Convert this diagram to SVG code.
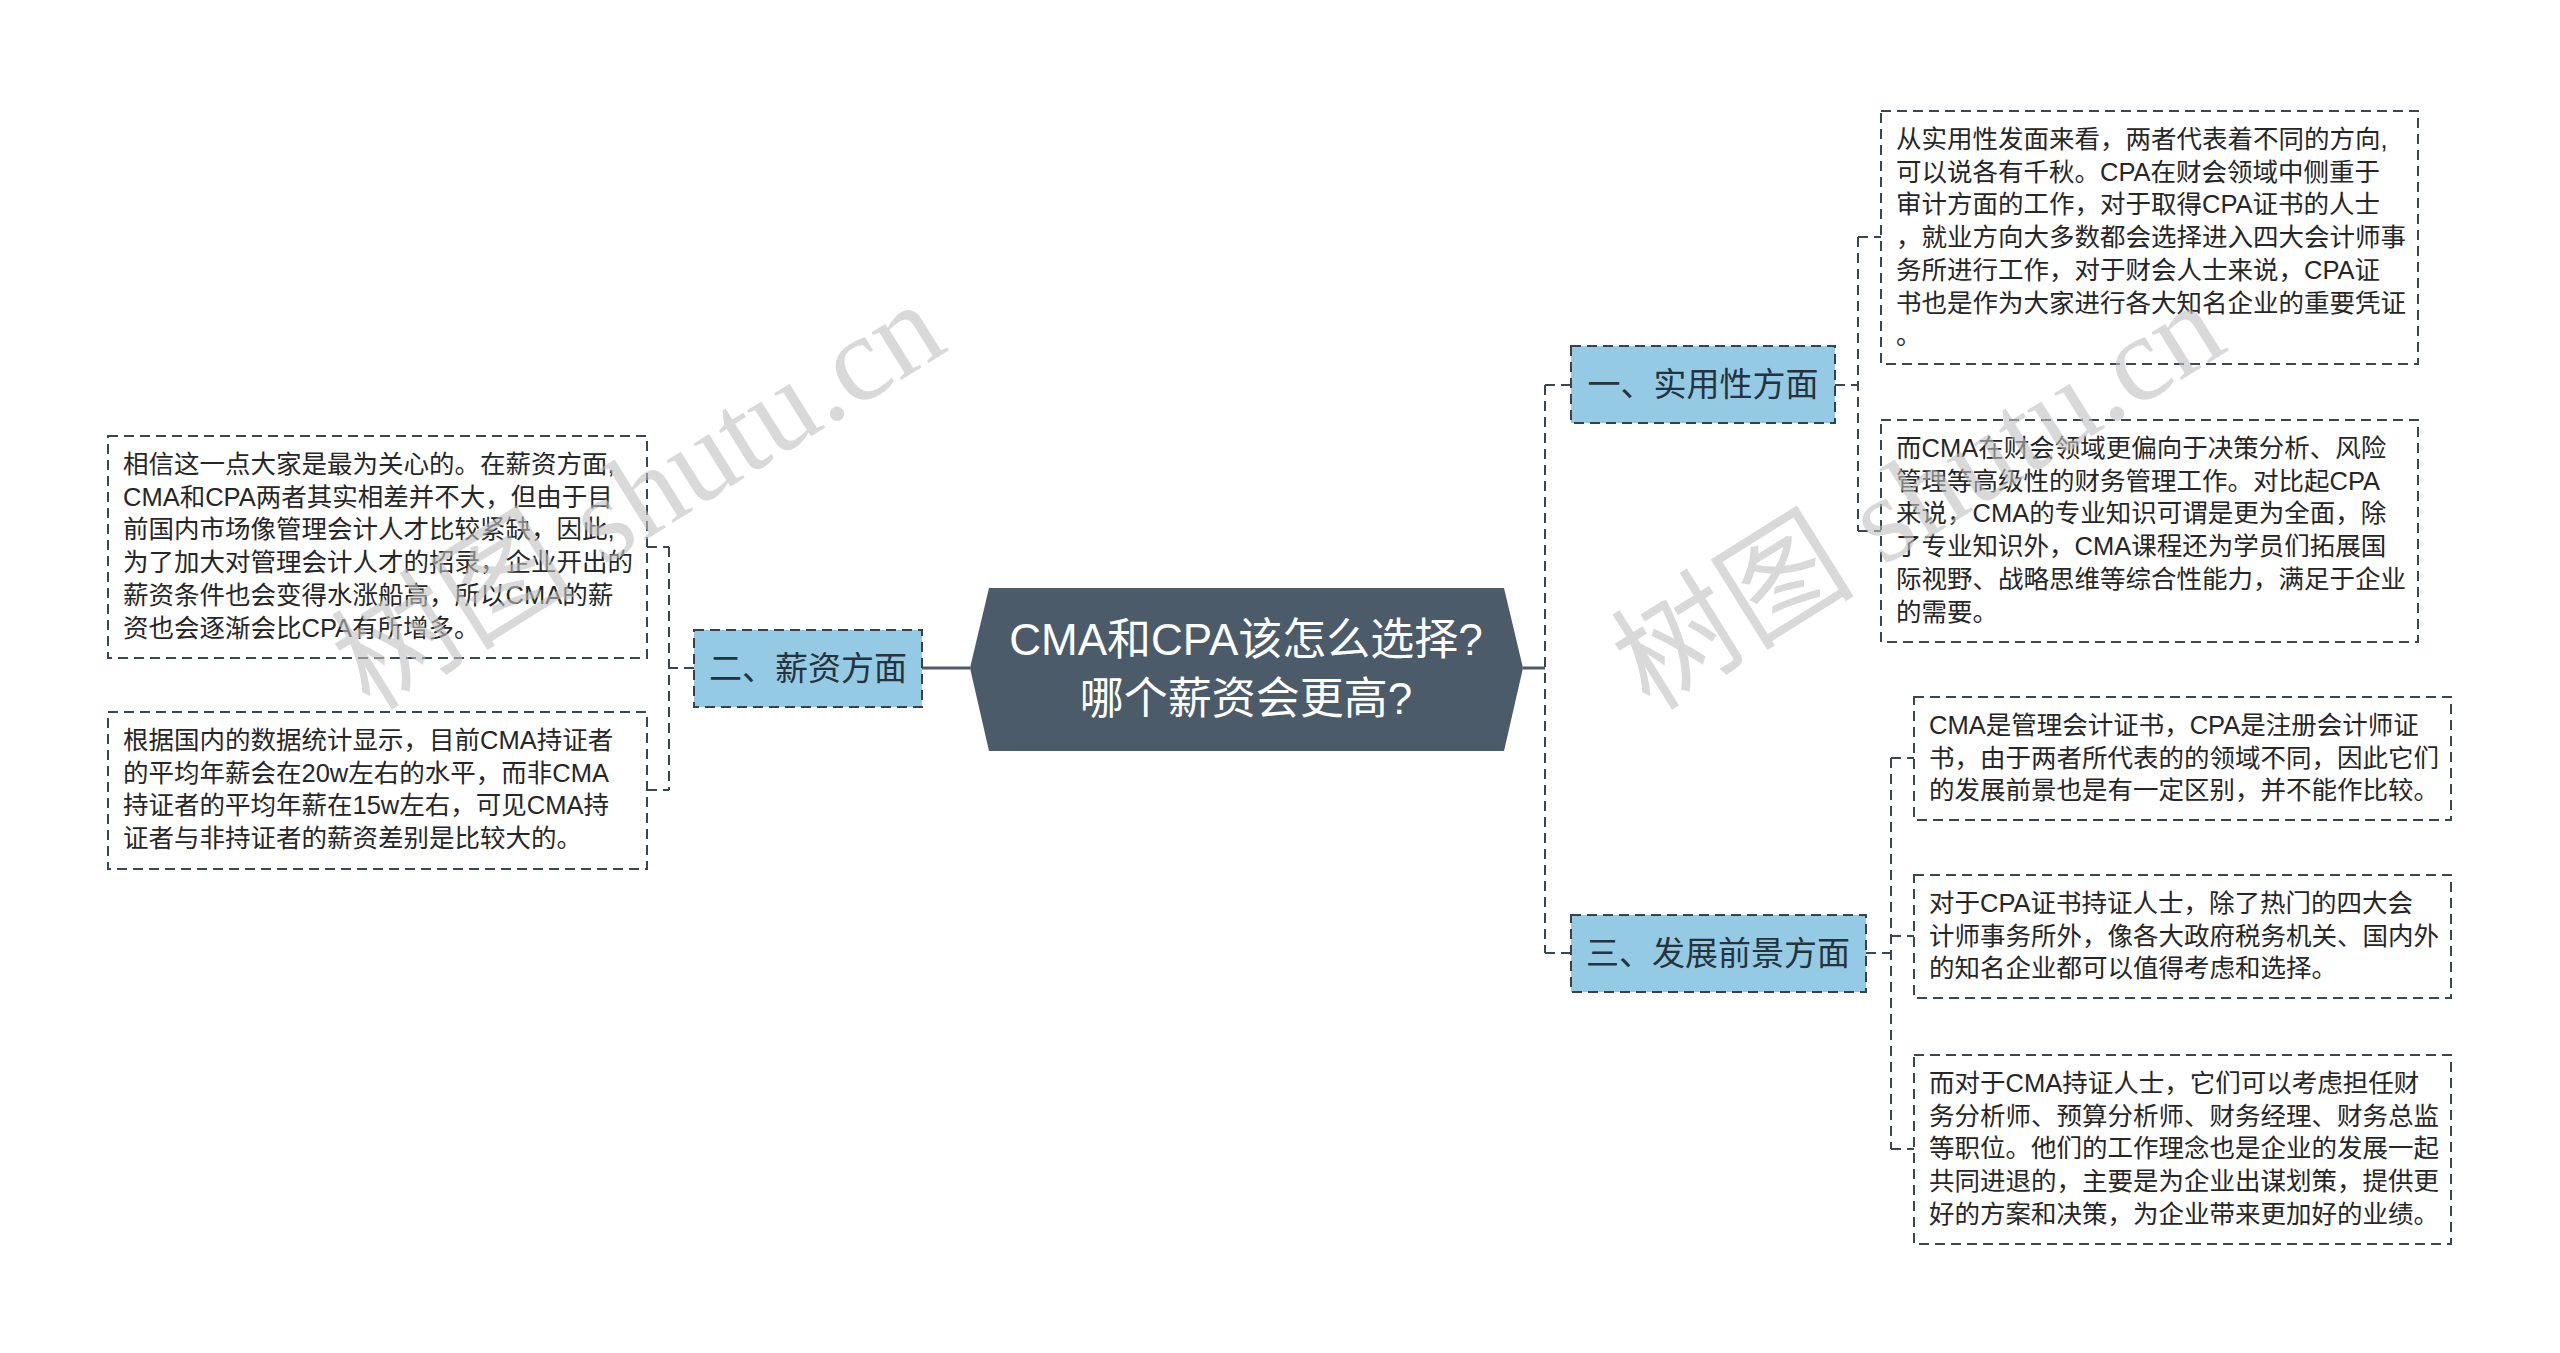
<svg xmlns="http://www.w3.org/2000/svg" width="2560" height="1353" viewBox="0 0 2560 1353">
<style>
.bg{fill:#ffffff}
.box{fill:#ffffff;stroke:#3a4652;stroke-width:2;stroke-dasharray:10 6}
.topic{fill:#94cae4;stroke:#35424e;stroke-width:2;stroke-dasharray:10 6}
.dash{fill:none;stroke:#3a4652;stroke-width:2;stroke-dasharray:10 6}
.solid{fill:none;stroke:#4b5b6a;stroke-width:3}
.t{font-family:"Liberation Sans","Noto Sans CJK SC",sans-serif;font-size:25.5px;fill:#262626}
.tl{font-family:"Liberation Sans","Noto Sans CJK SC",sans-serif;font-size:33px;fill:#26323d;text-anchor:middle}
.tc{font-family:"Liberation Sans","Noto Sans CJK SC",sans-serif;font-size:44px;fill:#ffffff;text-anchor:middle}
.wm{font-family:"Liberation Serif","Noto Sans CJK SC",serif;font-size:122px;fill:#bfbfbf;fill-opacity:0.6}
</style>
<rect class="bg" width="2560" height="1353"/>

<g id="connectors">
<line class="solid" x1="922" y1="668" x2="970" y2="668"/>
<path class="dash" d="M694 668H669M669 547V790M647 547H669M647 790H669"/>
<line class="solid" x1="1523" y1="668" x2="1545" y2="668"/>
<path class="dash" d="M1545 385V953M1545 385H1571M1545 953H1571"/>
<path class="dash" d="M1835 385H1858M1858 237V531M1858 237H1881M1858 531H1881"/>
<path class="dash" d="M1866 953H1891M1891 758V1149M1891 758H1914M1891 936H1914M1891 1149H1914"/>
</g>

<g id="center">
<polygon points="970,668 989,588 1504,588 1523,668 1504,751 989,751" fill="#4b5b6a"/>
<text class="tc" x="1246" y="655">CMA和CPA该怎么选择?</text>
<text class="tc" x="1246" y="714">哪个薪资会更高?</text>
</g>

<g id="topic-salary">
<rect class="topic" x="694" y="630" width="228" height="77"/>
<text class="tl" x="808" y="680">二、薪资方面</text>
</g>

<g id="topic-practical">
<rect class="topic" x="1571" y="346" width="264" height="77"/>
<text class="tl" x="1703" y="396">一、实用性方面</text>
</g>

<g id="topic-prospect">
<rect class="topic" x="1571" y="915" width="295" height="77"/>
<text class="tl" x="1718" y="965">三、发展前景方面</text>
</g>

<g id="salary-1">
<rect class="box" x="108" y="436" width="539" height="222"/>
<text class="t" x="123" y="473">相信这一点大家是最为关心的。在薪资方面,</text>
<text class="t" x="123" y="505.7">CMA和CPA两者其实相差并不大，但由于目</text>
<text class="t" x="123" y="538.4">前国内市场像管理会计人才比较紧缺，因此,</text>
<text class="t" x="123" y="571.1">为了加大对管理会计人才的招录，企业开出的</text>
<text class="t" x="123" y="603.8">薪资条件也会变得水涨船高，所以CMA的薪</text>
<text class="t" x="123" y="636.5">资也会逐渐会比CPA有所增多。</text>
</g>

<g id="salary-2">
<rect class="box" x="108" y="712" width="539" height="157"/>
<text class="t" x="123" y="749">根据国内的数据统计显示，目前CMA持证者</text>
<text class="t" x="123" y="781.7">的平均年薪会在20w左右的水平，而非CMA</text>
<text class="t" x="123" y="814.4">持证者的平均年薪在15w左右，可见CMA持</text>
<text class="t" x="123" y="847.1">证者与非持证者的薪资差别是比较大的。</text>
</g>

<g id="practical-1">
<rect class="box" x="1881" y="111" width="537" height="253"/>
<text class="t" x="1896" y="148">从实用性发面来看，两者代表着不同的方向,</text>
<text class="t" x="1896" y="180.7">可以说各有千秋。CPA在财会领域中侧重于</text>
<text class="t" x="1896" y="213.4">审计方面的工作，对于取得CPA证书的人士</text>
<text class="t" x="1896" y="246.1">，就业方向大多数都会选择进入四大会计师事</text>
<text class="t" x="1896" y="278.8">务所进行工作，对于财会人士来说，CPA证</text>
<text class="t" x="1896" y="311.5">书也是作为大家进行各大知名企业的重要凭证</text>
<text class="t" x="1896" y="344.2">。</text>
</g>

<g id="practical-2">
<rect class="box" x="1881" y="420" width="537" height="222"/>
<text class="t" x="1896" y="457">而CMA在财会领域更偏向于决策分析、风险</text>
<text class="t" x="1896" y="489.7">管理等高级性的财务管理工作。对比起CPA</text>
<text class="t" x="1896" y="522.4">来说，CMA的专业知识可谓是更为全面，除</text>
<text class="t" x="1896" y="555.1">了专业知识外，CMA课程还为学员们拓展国</text>
<text class="t" x="1896" y="587.8">际视野、战略思维等综合性能力，满足于企业</text>
<text class="t" x="1896" y="620.5">的需要。</text>
</g>

<g id="prospect-1">
<rect class="box" x="1914" y="697" width="537" height="123"/>
<text class="t" x="1929" y="734">CMA是管理会计证书，CPA是注册会计师证</text>
<text class="t" x="1929" y="766.7">书，由于两者所代表的的领域不同，因此它们</text>
<text class="t" x="1929" y="799.4">的发展前景也是有一定区别，并不能作比较。</text>
</g>

<g id="prospect-2">
<rect class="box" x="1914" y="875" width="537" height="123"/>
<text class="t" x="1929" y="912">对于CPA证书持证人士，除了热门的四大会</text>
<text class="t" x="1929" y="944.7">计师事务所外，像各大政府税务机关、国内外</text>
<text class="t" x="1929" y="977.4">的知名企业都可以值得考虑和选择。</text>
</g>

<g id="prospect-3">
<rect class="box" x="1914" y="1055" width="537" height="189"/>
<text class="t" x="1929" y="1092">而对于CMA持证人士，它们可以考虑担任财</text>
<text class="t" x="1929" y="1124.7">务分析师、预算分析师、财务经理、财务总监</text>
<text class="t" x="1929" y="1157.4">等职位。他们的工作理念也是企业的发展一起</text>
<text class="t" x="1929" y="1190.1">共同进退的，主要是为企业出谋划策，提供更</text>
<text class="t" x="1929" y="1222.8">好的方案和决策，为企业带来更加好的业绩。</text>
</g>

<g id="watermarks">
<text class="wm" transform="translate(370 712) rotate(-32)">树图 shutu.cn</text>
<text class="wm" transform="translate(1650 712) rotate(-32)">树图 shutu.cn</text>
</g>
</svg>
